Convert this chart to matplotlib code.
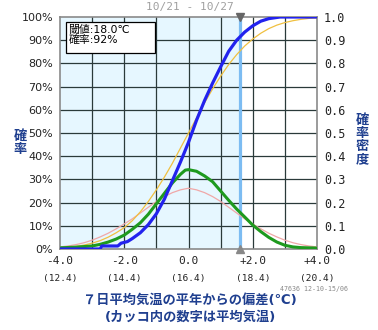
import matplotlib
matplotlib.use("Agg")
import matplotlib.pyplot as plt
import matplotlib.transforms as mtransforms
from matplotlib.patches import Rectangle
import numpy as np

plt.rcParams['font.family'] = ['DejaVu Sans', 'Noto Sans CJK JP']

# --- data ---
period = "10/21 - 10/27"
threshold_dev = 1.6
legend_lines = ["閾値:18.0℃", "確率:92%"]

tick_dev = [-4, -2, 0, 2, 4]
tick_dev_labels = ["-4.0", "-2.0", "0.0", "+2.0", "+4.0"]
tick_temp_labels = ["(12.4)", "(14.4)", "(16.4)", "(18.4)", "(20.4)"]

# ensemble cumulative probability (blue)
cdf_x = [-4.0, -2.75, -2.7, -2.2, -2.1, -1.9, -1.75, -1.5, -1.25, -1.0, -0.75, -0.5, -0.25,
         0.0, 0.25, 0.5, 0.75, 1.0, 1.25, 1.5, 1.75, 2.0, 2.25, 2.5, 2.75, 2.85, 4.0]
cdf_y = [0.0, 0.0, 0.013, 0.013, 0.025, 0.032, 0.045, 0.07, 0.105, 0.152, 0.215, 0.295, 0.375,
         0.46, 0.555, 0.64, 0.715, 0.785, 0.852, 0.9, 0.935, 0.962, 0.982, 0.993, 0.998, 1.0, 1.0]

# climatological cumulative probability (orange)
clim_cdf_x = [-4.0, -3.75, -3.5, -3.25, -3.0, -2.75, -2.5, -2.25, -2.0, -1.75, -1.5, -1.25,
              -1.0, -0.75, -0.5, -0.25, 0.0, 0.25, 0.5, 0.75, 1.0, 1.25, 1.5, 1.75,
              2.0, 2.25, 2.5, 2.75, 3.0, 3.25, 3.5, 3.75, 4.0]
clim_cdf_y = [0.005, 0.007, 0.011, 0.017, 0.025, 0.036, 0.051, 0.07, 0.092, 0.122, 0.16, 0.205,
              0.255, 0.31, 0.37, 0.435, 0.5, 0.565, 0.63, 0.69, 0.745, 0.795, 0.838, 0.875,
              0.905, 0.93, 0.95, 0.965, 0.976, 0.984, 0.99, 0.994, 0.996]

# ensemble probability density (green)
pdf_x = [-4.0, -3.5, -3.0, -2.75, -2.5, -2.25, -2.0, -1.75, -1.5, -1.25, -1.0, -0.75,
         -0.5, -0.25, -0.1, 0.0, 0.25, 0.5, 0.75, 1.0, 1.25, 1.5, 1.75, 2.0, 2.25,
         2.5, 2.75, 3.0, 3.25, 3.5, 4.0]
pdf_y = [0.005, 0.008, 0.013, 0.02, 0.03, 0.043, 0.06, 0.085, 0.113, 0.15, 0.195, 0.24,
         0.285, 0.322, 0.34, 0.342, 0.335, 0.315, 0.29, 0.25, 0.21, 0.172, 0.138, 0.103, 0.075,
         0.05, 0.03, 0.016, 0.009, 0.006, 0.004]

# climatological probability density (pink)
clim_pdf_x = [-4.0, -3.75, -3.5, -3.25, -3.0, -2.75, -2.5, -2.25, -2.0, -1.75, -1.5, -1.25,
              -1.0, -0.75, -0.5, -0.25, 0.0, 0.25, 0.5, 0.75, 1.0, 1.25, 1.5, 1.75,
              2.0, 2.25, 2.5, 2.75, 3.0, 3.25, 3.5, 3.75, 4.0]
clim_pdf_y = [0.009, 0.013, 0.019, 0.027, 0.038, 0.052, 0.068, 0.087, 0.108, 0.13, 0.155, 0.18,
              0.205, 0.226, 0.243, 0.255, 0.262, 0.255, 0.243, 0.226, 0.205, 0.18, 0.155, 0.13,
              0.108, 0.087, 0.068, 0.052, 0.038, 0.027, 0.019, 0.013, 0.009]

navy = "#1f3f8f"

fig = plt.figure(figsize=(3.78, 3.30), dpi=100)
ax = fig.add_axes([60 / 378, 81 / 330, 257 / 378, 232 / 330])

ax.set_xlim(-4, 4)
ax.set_ylim(0, 1)
ax.axvspan(-4, threshold_dev, color="#e6f7ff", zorder=0)

# grid
for gx in range(-3, 4):
    ax.axvline(gx, color="#2a3a3a", lw=0.9, zorder=1)
for gy in np.arange(0.1, 1.0, 0.1):
    ax.axhline(gy, color="#2a3a3a", lw=0.9, zorder=1)

ax.axvline(threshold_dev, color="#7cbcf2", lw=2.3, zorder=2)

ax.plot(clim_pdf_x, clim_pdf_y, color="#f0a8a8", lw=0.9, zorder=3)
ax.plot(clim_cdf_x, clim_cdf_y, color="#f0c040", lw=0.9, zorder=3)
ax.plot(pdf_x, pdf_y, color="#1e9a1e", lw=2.2, zorder=4, solid_joinstyle="round")
ax.plot(cdf_x, cdf_y, color="#2222ee", lw=2.3, zorder=5, solid_joinstyle="round")

for s in ax.spines.values():
    s.set_color("#8a8a8a")
    s.set_linewidth(1.2)

ax.set_yticks(np.arange(0, 1.01, 0.1))
ax.set_yticklabels([f"{int(round(v * 100))}%" for v in np.arange(0, 1.01, 0.1)],
                   fontsize=8, color="#222222")
ax.tick_params(axis="y", length=0, pad=5)
ax.set_xticks(tick_dev)
ax.set_xticklabels(tick_dev_labels, family="DejaVu Sans Mono", fontsize=8, color="#222222")
ax.tick_params(axis="x", length=0, pad=5)

trans = mtransforms.blended_transform_factory(ax.transData, ax.transAxes)
for d, t in zip(tick_dev, tick_temp_labels):
    ax.text(d, -0.107, t, transform=trans, ha="center", va="top",
            family="DejaVu Sans Mono", fontsize=6.8, color="#222222")

ax2 = ax.twinx()
ax2.set_ylim(0, 1)
ax2.set_yticks(np.arange(0, 1.01, 0.1))
ax2.set_yticklabels([f"{v:.1f}" for v in np.arange(0, 1.01, 0.1)],
                    family="DejaVu Sans Mono", fontsize=8.5, color="#222222")
ax2.tick_params(axis="y", length=0, pad=5)
for s in ax2.spines.values():
    s.set_visible(False)

# legend box
ax.add_patch(Rectangle((0.023, 0.845), 0.345, 0.133, transform=ax.transAxes,
                       fc="white", ec="black", lw=0.9, zorder=6))
ax.text(0.033, 0.968, "\n".join(legend_lines), transform=ax.transAxes,
        ha="left", va="top", fontsize=7.8, linespacing=1.1, color="#000000", zorder=7)

# period on top and threshold markers
fig.text(190 / 378, 1 - 7 / 330, period, ha="center", va="center",
         family="DejaVu Sans Mono", fontsize=8, color="#a0a0a0")
ax.plot([threshold_dev], [1.0], marker="v", color="#666666", ms=6,
        transform=trans, clip_on=False, zorder=7, linestyle="none")
ax.plot([threshold_dev], [0.0], marker="^", color="#888888", ms=6,
        transform=trans, clip_on=False, zorder=7, linestyle="none")

# axis titles
fig.text(20 / 378, 1 - 143 / 330, "確\n率", ha="center", va="center",
         fontsize=9.5, fontweight="bold", color=navy, linespacing=1.0)
fig.text(362 / 378, 1 - 140 / 330, "確\n率\n密\n度", ha="center", va="center",
         fontsize=9.5, fontweight="bold", color=navy, linespacing=1.0)
fig.text(190 / 378, 1 - 300 / 330, "７日平均気温の平年からの偏差(℃)", ha="center", va="center",
         fontsize=9.5, fontweight="bold", color=navy)
fig.text(190 / 378, 1 - 317 / 330, "(カッコ内の数字は平均気温)", ha="center", va="center",
         fontsize=9.5, fontweight="bold", color=navy)
fig.text(348 / 378, 1 - 289 / 330, "47636 12-10-15/06", ha="right", va="center",
         family="DejaVu Sans Mono", fontsize=4.8, color="#888888")

fig.savefig("out.png", dpi=100)
